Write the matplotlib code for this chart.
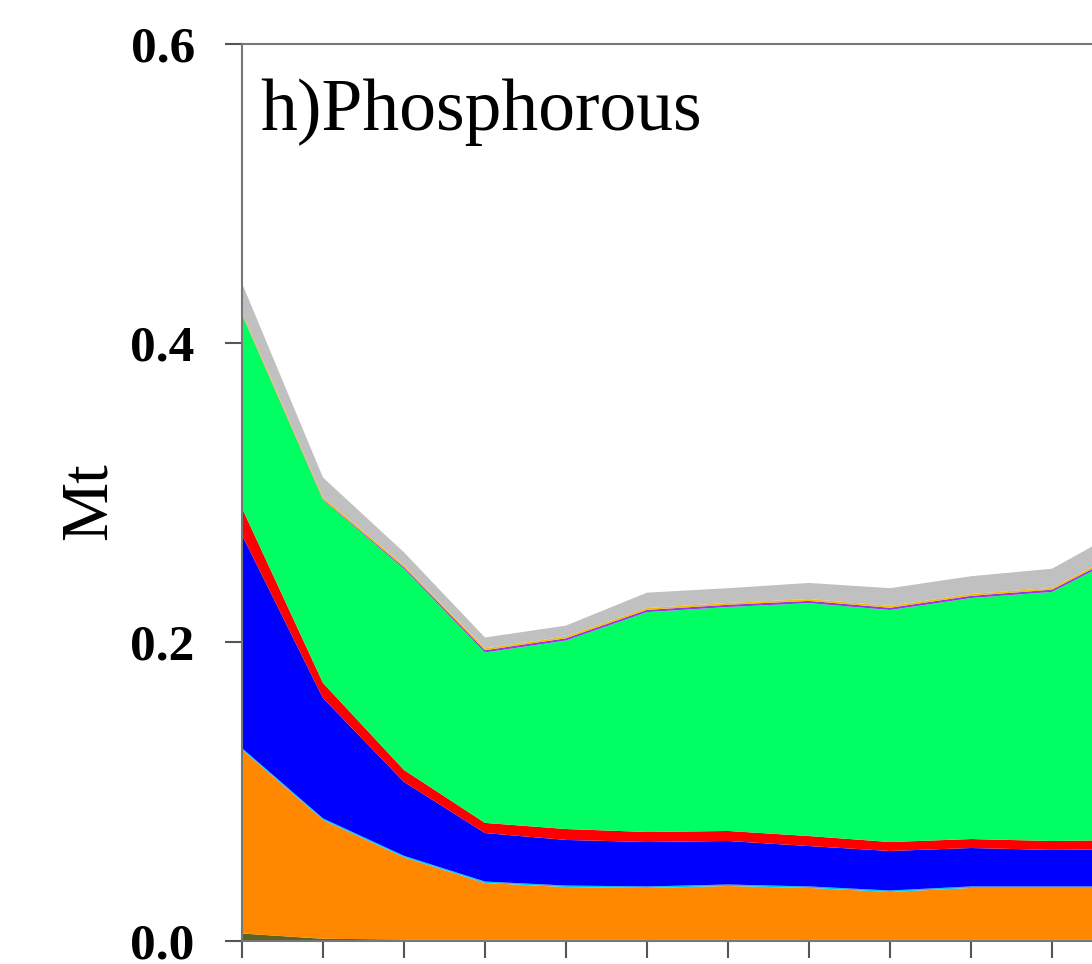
import numpy as np
import matplotlib.pyplot as plt

years = np.arange(12)
olive = [0.005, 0.0015, 0.001, 0.001, 0.001, 0.001, 0.001, 0.001, 0.001, 0.001, 0.001, 0.001]
orange = [0.123, 0.0795, 0.055, 0.0378, 0.0351, 0.0345, 0.0358, 0.0345, 0.0318, 0.0345, 0.0345, 0.0345]
cyan = [0.001] * 12
blue = [0.1426, 0.0805, 0.0494, 0.0324, 0.0305, 0.0297, 0.0291, 0.027, 0.0264, 0.0257, 0.0244, 0.025]
red = [0.018, 0.0101, 0.008, 0.0068, 0.0073, 0.0067, 0.0067, 0.0067, 0.006, 0.006, 0.006, 0.0061]
green = [0.1294, 0.1224, 0.1346, 0.114, 0.1261, 0.1471, 0.1498, 0.1558, 0.1552, 0.1612, 0.1666, 0.1939]
purple = [0.0003, 0.0005, 0.001, 0.0015, 0.0015, 0.0015, 0.0015, 0.0015, 0.0015, 0.0015, 0.0015, 0.0015]
yellow = [0.0012] * 12
gray = [0.0195, 0.0133, 0.0088, 0.0073, 0.0073, 0.0103, 0.0099, 0.0108, 0.0119, 0.0119, 0.0128, 0.0148]

layers = [olive, orange, cyan, blue, red, green, purple, yellow, gray]
colors = ["#5c6420", "#ff8800", "#00c8ff", "#0000ff", "#ff0000", "#00ff62",
          "#a030f0", "#e8c000", "#c0c0c0"]

fig = plt.figure(figsize=(10.92, 9.64), dpi=100)
# axes run past the right edge of the picture, as in the cropped original
ax = fig.add_axes([242/1092, 23/964, 891/1092, 897/964])
ax.stackplot(years, layers, colors=colors, linewidth=0)

ax.set_xlim(0, 11)
ax.set_ylim(0, 0.6)
ax.set_xticks(years)
ax.set_xticklabels([])
ax.set_yticks([0.0, 0.2, 0.4, 0.6])
ax.set_yticklabels(["0.0", "0.2", "0.4", "0.6"], fontfamily="Liberation Serif",
                   fontweight="bold", fontsize=37)
ax.tick_params(direction="out", length=12, width=1.5, color="#555555", pad=22)
for s in ax.spines.values():
    s.set_color("#777777")
    s.set_linewidth(1.5)

ax.set_ylabel("Mt", fontfamily="Liberation Serif", fontsize=48)
ax.yaxis.set_label_coords(-0.137, 0.49)
ax.text(0.02, 0.962, "h)Phosphorous", transform=ax.transAxes, ha="left", va="top",
        fontfamily="Liberation Serif", fontsize=53)

plt.savefig("out.png", dpi=100)
